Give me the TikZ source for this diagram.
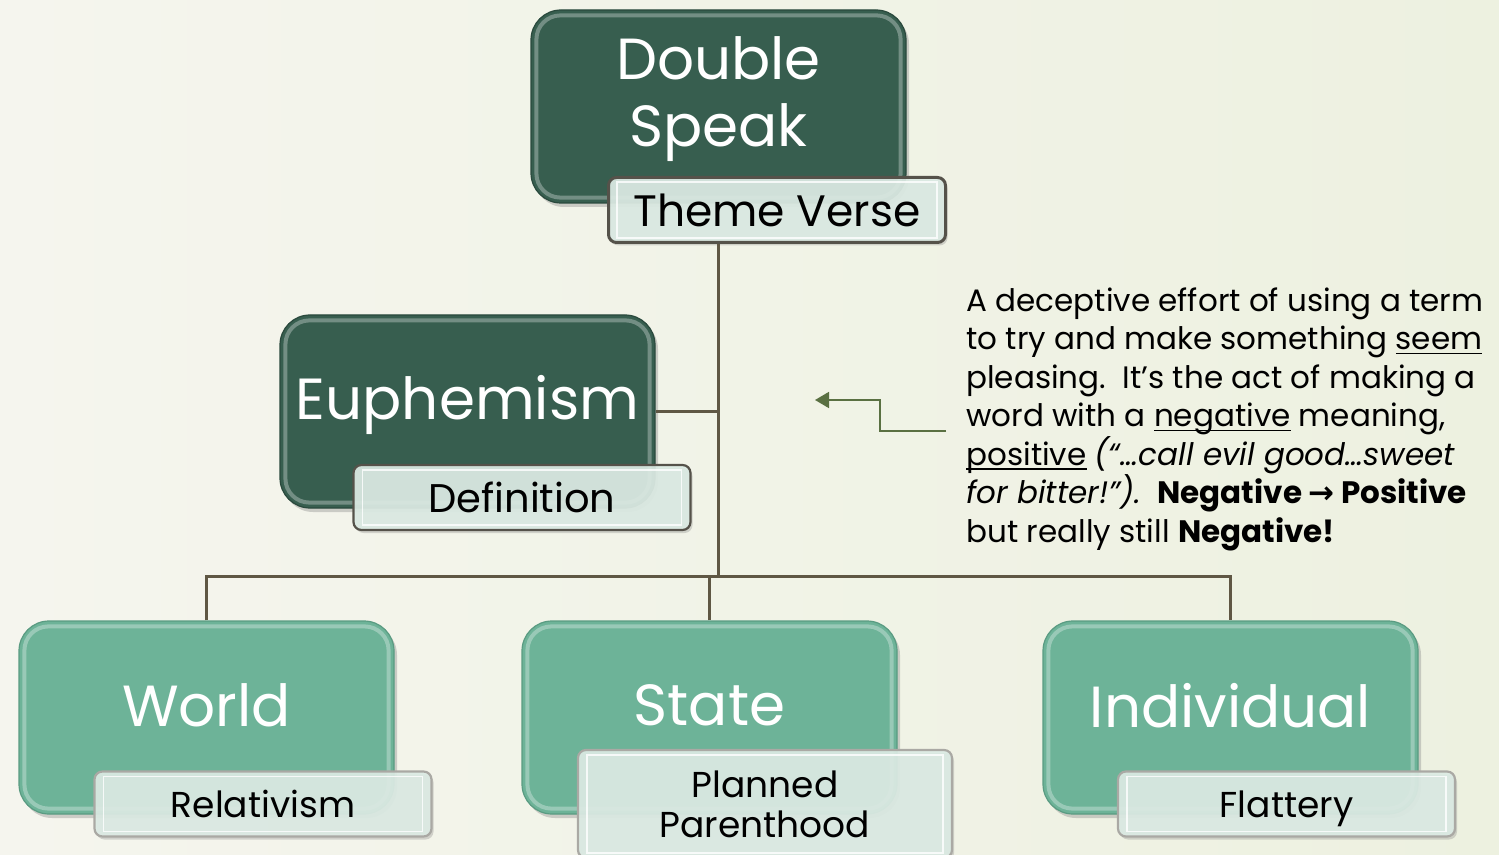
\documentclass[tikz,border=0pt]{standalone}
\usepackage{fontspec}
\setmainfont{Poppins}
\newfontfamily\symfont{DejaVu Sans}
\usepackage{tikz}
\usetikzlibrary{arrows.meta,shadows}

\definecolor{bgleft}{HTML}{F5F5EE}
\definecolor{bgright}{HTML}{EDF1E0}
\definecolor{darkgreen}{HTML}{375E4F}
\definecolor{darkedge}{HTML}{2A493D}
\definecolor{midgreen}{HTML}{6DB398}
\definecolor{midedge}{HTML}{5A9B82}
\definecolor{tagfill}{HTML}{DCEBE4}
\definecolor{tagedge}{HTML}{55524A}
\definecolor{linkcol}{HTML}{5F5744}
\definecolor{arrowcol}{HTML}{5A7042}

\newcommand{\notefont}{\fontsize{15.5}{19.25}\selectfont\lineskiplimit-20pt\relax}
\newcommand{\uword}[1]{\setbox0\hbox{#1}\rlap{\rule[-2.4pt]{\wd0}{0.7pt}}\box0\relax}

\tikzset{
  bigbox/.style={rounded corners=15pt, minimum width=187.5pt, minimum height=96.5pt,
    line width=0.6pt, drop shadow={opacity=0.35, shadow xshift=1.5pt, shadow yshift=-2pt}},
  darkbox/.style={bigbox, fill=darkgreen, draw=darkedge},
  lightbox/.style={bigbox, fill=midgreen, draw=midedge},
  gloss/.style={rounded corners=12pt, draw=white, draw opacity=0.3, line width=2pt},
  title/.style={text=white, font=\fontsize{29}{33.5}\selectfont, align=center},
  tagbox/.style={rounded corners=4pt, fill=tagfill, fill opacity=0.92, text opacity=1,
    draw=tagedge, line width=1.1pt, minimum width=168.5pt, minimum height=32.5pt,
    align=center, font=\fontsize{18}{20}\selectfont,
    drop shadow={opacity=0.3, shadow xshift=1pt, shadow yshift=-1.5pt}},
  bevel/.style={draw=white, line width=0.8pt, draw opacity=0.8},
  link/.style={draw=linkcol, line width=1.5pt},
  callout/.style={draw=arrowcol, line width=0.9pt, -{Triangle[length=7pt,width=8pt]}},
}

\begin{document}
\begin{tikzpicture}[x=0.5pt,y=-0.5pt]
\useasboundingbox (0,0) rectangle (1499,855);
\shade[left color=bgleft, right color=bgright] (0,0) rectangle (1499,855);

% Box: top
\node[darkbox] (ds) at (718.5,106.5) {};
\node[title] (dsT) at ([yshift=3.5pt]ds.center) {Double\\Speak};
% Box: left
\node[darkbox] (eu) at (467.5,411.5) {};
\node[title] (euT) at ([yshift=3.5pt]eu.center) {Euphemism};
% Boxes: bottom row
\node[lightbox] (wo) at (206.5,717.5) {};
\node[title] (woT) at ([yshift=6pt]wo.center) {World};
\node[lightbox] (st) at (709.5,717.5) {};
\node[title] (stT) at ([yshift=6pt]st.center) {State};
\node[lightbox] (ind) at (1230.5,717.5) {};
\node[title] (indT) at ([yshift=6pt]ind.center) {Individual};

\foreach \b in {ds,eu,wo,st,ind}
  \draw[gloss] ([shift={(3pt,-3pt)}]\b.north west) rectangle ([shift={(-3pt,3pt)}]\b.south east);

% Tags
\node[tagbox, font=\fontsize{22}{24}\selectfont, line width=1.5pt] (tv) at (777,210) {Theme Verse};
\node[tagbox, font=\fontsize{20}{22}\selectfont] (df) at (522,497.5) {Definition};
\node[tagbox, draw=tagedge!50] (rl) at (263,804) {Relativism};
\node[tagbox, draw=tagedge!50, minimum width=187pt, minimum height=54pt] (pp) at (765,804) {Planned\\Parenthood};
\node[tagbox, draw=tagedge!50, text depth=0pt] (fl) at (1286.5,804) {Flattery};

\foreach \t in {tv,df,rl,pp,fl}
  \draw[bevel] ([shift={(5pt,-3pt)}]\t.north west) rectangle ([shift={(-5pt,3pt)}]\t.south east);

% Connectors
\coordinate (hub) at (718.5,576);
\draw[link] (ds.south |- tv.south) -- (hub);
\draw[link] (eu.east) -- (eu.east -| hub);
\draw[link] (wo.north) |- (hub) -| (ind.north);
\draw[link] (st.north) -- (st.north |- hub);

% Callout
\coordinate (c1) at (946,431);
\coordinate (c2) at (815,400);
\draw[callout] (c1) -- ++(-66,0) |- (c2);

% Text Node
\node[anchor=north west, inner sep=0pt, align=left, font=\notefont] (note) at (966,287)
  {A deceptive effort of using a term\\
   to try and make something \uword{seem}\\
   pleasing.\ \ It’s the act of making a\\
   word with a \uword{negative} meaning,\\
   \uword{positive} \textit{(“…call evil good…sweet}\\
   \textit{for bitter!”).}\ \ \textbf{Negative {\symfont →} Positive}\\
   but really still \textbf{Negative!}};

\end{tikzpicture}
\end{document}
